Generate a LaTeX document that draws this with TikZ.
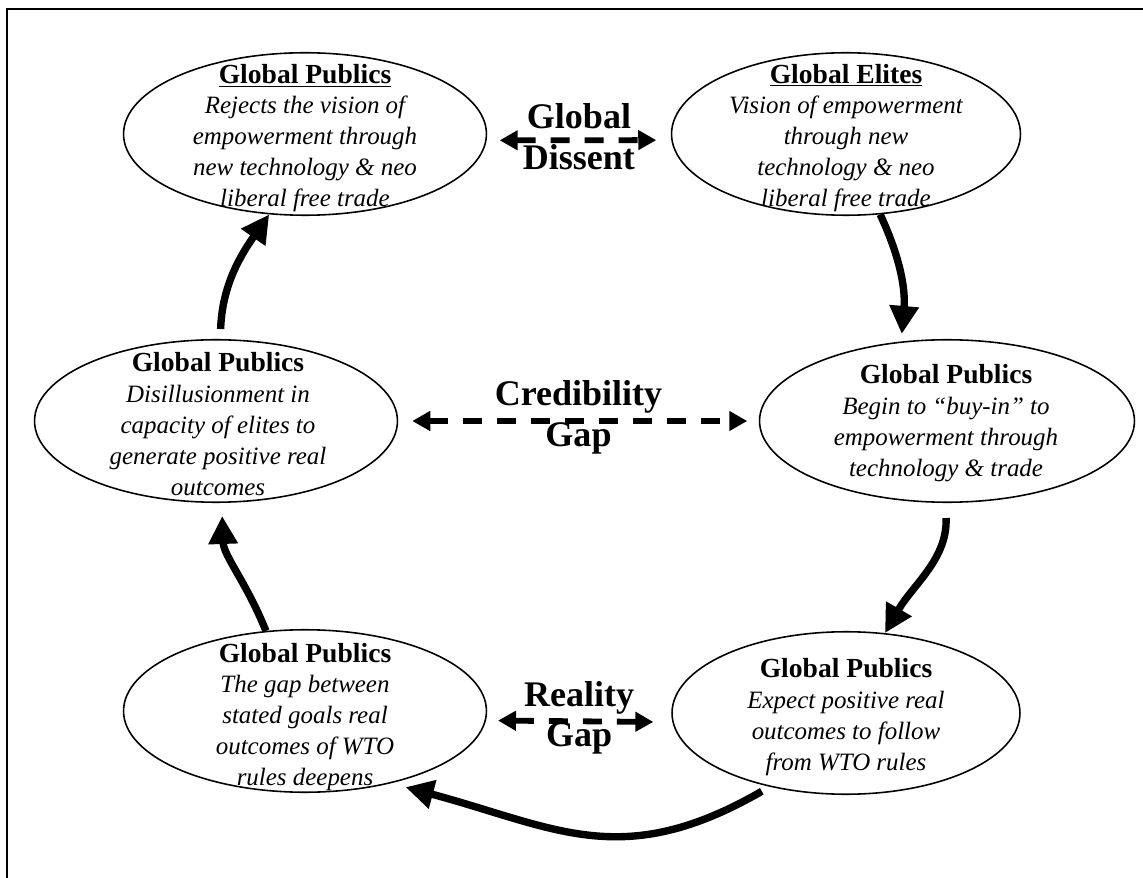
\documentclass[tikz,border=0pt]{standalone}
\usepackage{fontspec}
\setmainfont{Liberation Serif}
\usetikzlibrary{arrows.meta,shapes.geometric}

\newcommand{\hd}[1]{{\fontsize{15.7}{17.6}\selectfont\bfseries\upshape #1}}

\begin{document}
\begin{tikzpicture}[x=0.02cm, y=-0.02cm, bubble/.style={ellipse, draw, line width=0.9pt, minimum height=3.25cm, inner sep=0pt}, say/.style={align=center, inner sep=0pt, font=\fontsize{14.2}{17.6}\selectfont\itshape}, gaptext/.style={align=center, inner sep=0pt, yshift=2pt, font=\fontsize{20.5}{23}\selectfont\bfseries}, gapline/.style={line width=3.3pt, dash pattern=on 0.38cm off 0.3cm, {Triangle[length=0.36cm,width=0.38cm]}-{Triangle[length=0.36cm,width=0.38cm]}}, flow/.style={line width=4.2pt, -{Triangle[length=0.56cm,width=0.56cm]}}]
		\useasboundingbox (0,0) rectangle (1143,878);
		\draw[line width=1.4pt] (7,878) -- (7,9) -- (1143,9);

		\node[bubble, minimum width=7.26cm] (pubTop) at (305,134) {};
		\node[say] (pubTop-txt) at (305,138) {\hd{\underline{Global Publics}}\\Rejects the vision of\\empowerment through\\new technology \& neo\\liberal free trade};

		\node[bubble, minimum width=6.98cm] (elite) at (846,134) {};
		\node[say] (elite-txt) at (846,138) {\hd{\underline{Global Elites}}\\Vision of empowerment\\through new\\technology \& neo\\liberal free trade};

		\node[bubble, minimum width=7.26cm] (pubLeft) at (216,421) {};
		\node[say] (pubLeft-txt) at (218,424) {\hd{Global Publics}\\Disillusionment in\\capacity of elites to\\generate positive real\\outcomes};

		\node[bubble, minimum width=7.5cm] (pubRight) at (947,421) {};
		\node[say] (pubRight-txt) at (946,423) {\hd{Global Publics}\\Begin to “buy-in” to\\empowerment through\\technology \& trade};

		\node[bubble, minimum width=7.26cm] (pubLow) at (305,711) {};
		\node[say] (pubLow-txt) at (305,717) {\hd{Global Publics}\\The gap between\\stated goals real\\outcomes of WTO\\rules deepens};

		\node[bubble, minimum width=6.96cm] (pubExp) at (846,713) {};
		\node[say] (pubExp-txt) at (846,717) {\hd{Global Publics}\\Expect positive real\\outcomes to follow\\from WTO rules};

		\draw[gapline, shorten <=0.26cm, shorten >=0.3cm] (pubTop.-2) -- node[gaptext] (dissent) {Global\\Dissent} (elite.182);
		\draw[gapline, shorten <=0.28cm, shorten >=0.23cm] (pubLeft.east) -- node[gaptext] (credib) {Credibility\\Gap} (pubRight.west);
		\draw[gapline, shorten <=0.24cm, shorten >=0.38cm] (pubLow.-3) -- node[gaptext] (reality) {Reality\\Gap} (pubExp.183);

		\draw[flow, shorten >=0.15cm] (elite.-67) to[out=-65, in=85] (pubRight.120);
		\draw[flow, shorten <=0.3cm] (pubRight.-91) to[out=-88, in=60] (pubExp.64);
		\draw[flow, shorten <=0.18cm, shorten >=0.3cm] (pubExp.-136) to[out=-150, in=-15, looseness=1.15] (pubLow.-40);
		\draw[flow, shorten >=0.26cm] (pubLow.116) to[out=112, in=-88] (pubLeft.-86);
		\draw[flow, shorten <=0.2cm] (pubLeft.87) to[out=88, in=-125] (pubTop.-114);
	\end{tikzpicture}
\end{document}
